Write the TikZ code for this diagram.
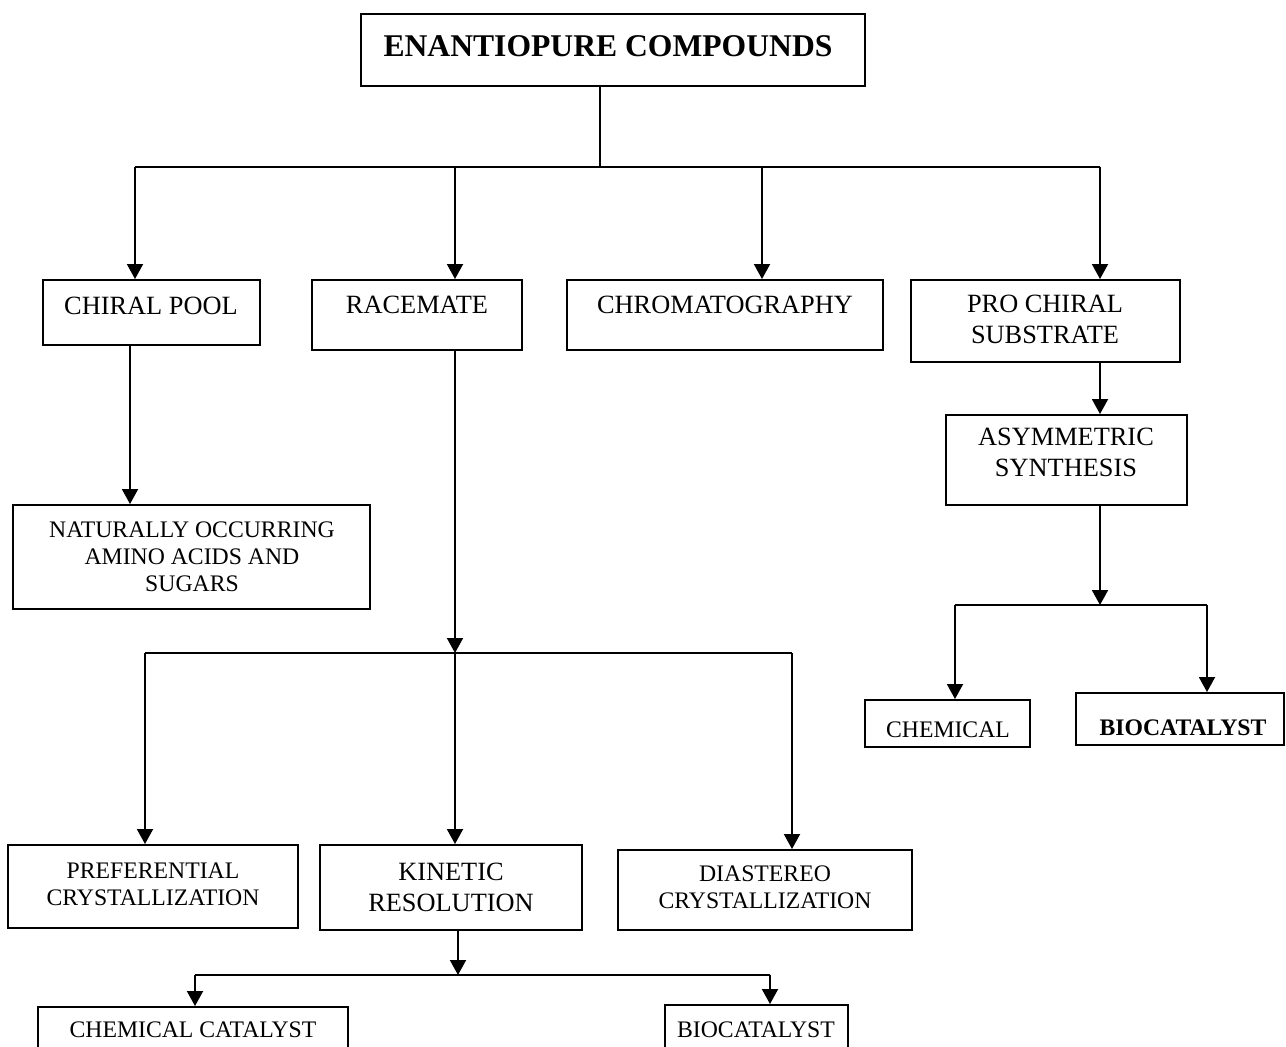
\documentclass[tikz,border=0pt]{standalone}
\usepackage{fontspec}
\setmainfont{Liberation Serif}
\usetikzlibrary{arrows.meta,fit}

\tikzset{
    box/.style   = {draw, line width=1.1pt, inner sep=0pt},
    big/.style   = {font=\fontsize{15}{17.6}\selectfont, align=center, inner sep=0pt},
    small/.style = {font=\fontsize{13.5}{15.3}\selectfont, align=center, inner sep=0pt},
    arr/.style   = {-{Triangle[length=0.30cm,width=0.32cm]}, line width=1.1pt},
    bus/.style   = {line width=1.1pt}
}

\begin{document}
\begin{tikzpicture}[x=0.02cm, y=-0.02cm]
        \useasboundingbox (0,0) rectangle (1286,1047);
        \clip (0,0) rectangle (1286,1047);

        % top
        \node[box, fit={(361,14) (865,86)}] (top) {};
        \node[inner sep=0pt, font=\fontsize{18}{21}\selectfont\bfseries] (toptxt) at (608,46) {ENANTIOPURE COMPOUNDS};

        % row 1
        \node[box, fit={( 43,280) ( 260,345)}] (pool)  {};
        \node[box, fit={(312,280) ( 522,350)}] (race)  {};
        \node[box, fit={(567,280) ( 883,350)}] (chrom) {};
        \node[box, fit={(911,280) (1180,362)}] (pro)   {};
        \node[big] (pooltxt)  at ( 151,306) {CHIRAL POOL};
        \node[big] (racetxt)  at ( 417,305) {RACEMATE};
        \node[big] (chromtxt) at ( 725,305) {CHROMATOGRAPHY};
        \node[big] (protxt)   at (1045,319) {PRO CHIRAL\\SUBSTRATE};

        % chiral pool / pro chiral branch
        \node[box, fit={( 13,505) ( 370,609)}] (natural) {};
        \node[small] (naturaltxt) at (192,557) {NATURALLY OCCURRING\\AMINO ACIDS AND\\SUGARS};
        \node[box, fit={(946,415) (1187,505)}] (asym) {};
        \node[big] (asymtxt) at (1066,452) {ASYMMETRIC\\SYNTHESIS};
        \node[box, fit={( 865,700) (1030,747)}] (chem) {};
        \node[box, fit={(1076,693) (1284,745)}] (bio)  {};
        \node[small] (chemtxt) at ( 948,730) {CHEMICAL};
        \node[small, font=\fontsize{13.5}{15.3}\selectfont\bfseries] (biotxt) at (1183,728) {BIOCATALYST};

        % racemate branch
        \node[box, fit={(  8,845) (298,928)}] (pref) {};
        \node[box, fit={(320,845) (582,930)}] (kin)  {};
        \node[box, fit={(618,850) (912,930)}] (dia)  {};
        \node[small] (preftxt) at (153,884) {PREFERENTIAL\\CRYSTALLIZATION};
        \node[big]   (kintxt)  at (451,887) {KINETIC\\RESOLUTION};
        \node[small] (diatxt)  at (765,887) {DIASTEREO\\CRYSTALLIZATION};
        \node[box, fit={( 38,1007) (348,1060)}] (chemcat) {};
        \node[box, fit={(665,1005) (848,1060)}] (biocat)  {};
        \node[small] (chemcattxt) at (193,1030) {CHEMICAL CATALYST};
        \node[small] (biocattxt)  at (756,1030) {BIOCATALYST};

        % buses
        \coordinate (b1) at ( 600,167);
        \coordinate (b2) at ( 455,653);
        \coordinate (b3) at (1100,605);
        \coordinate (b4) at ( 458,975);
        \draw[bus] (b1 |- top.south) -- (b1);
        \draw[bus] (135,167) -- (1100,167);
        \draw[bus] (145,653) -- ( 792,653);
        \draw[bus] (955,605) -- (1207,605);
        \draw[bus] (195,975) -- ( 770,975);

        % arrows
        \draw[arr] ( 135,167) -- ( 135,167 |- pool.north);
        \draw[arr] ( 455,167) -- ( 455,167 |- race.north);
        \draw[arr] ( 762,167) -- ( 762,167 |- chrom.north);
        \draw[arr] (1100,167) -- (1100,167 |- pro.north);
        \draw[arr] (130,0 |- pool.south) -- (130,0 |- natural.north);
        \draw[arr] (b2 |- race.south) -- (b2);
        \draw[arr] (b3 |- pro.south) -- (b3 |- asym.north);
        \draw[arr] (b3 |- asym.south) -- (b3);
        \draw[arr] ( 955,605) -- ( 955,605 |- chem.north);
        \draw[arr] (1207,605) -- (1207,605 |- bio.north);
        \draw[arr] (145,653) -- (145,653 |- pref.north);
        \draw[arr] (b2) -- (b2 |- kin.north);
        \draw[arr] (792,653) -- (792,653 |- dia.north);
        \draw[arr] (b4 |- kin.south) -- (b4);
        \draw[arr] (195,975) -- (195,975 |- chemcat.north);
        \draw[arr] (770,975) -- (770,975 |- biocat.north);
    \end{tikzpicture}
\end{document}
